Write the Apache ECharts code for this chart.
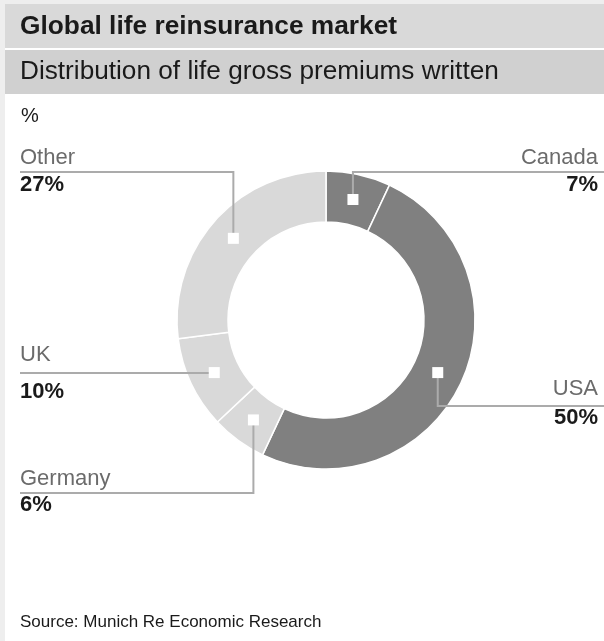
<!DOCTYPE html>
<html>
<head>
<meta charset="utf-8">
<script src="https://cdn.jsdelivr.net/npm/echarts@6/dist/echarts.min.js"></script>
<style>
  html, body { margin: 0; padding: 0; background: #eeeeee; }
  #chart { width: 604px; height: 641px; }
</style>
</head>
<body>
<div id="chart"></div>
<script>
// Life reinsurance gross premiums written, share by market (%)
const categories = ['Canada', 'USA', 'Germany', 'UK', 'Other'];
const shares = [7, 50, 6, 10, 27];

// Styling
const FONT = '"Liberation Sans", Arial, Helvetica, sans-serif';
const sliceColors = {
  Canada: '#808080',
  USA: '#808080',
  Germany: '#d9d9d9',
  UK: '#d9d9d9',
  Other: '#d9d9d9'
};

// Where each callout sits: which side, name row, leader row, value row
const callouts = {
  Canada:  { side: 'right', nameY: 158, lineY: 172, valueY: 185 },
  USA:     { side: 'right', nameY: 389, lineY: 406, valueY: 418 },
  Germany: { side: 'left',  nameY: 479, lineY: 493, valueY: 505 },
  UK:      { side: 'left',  nameY: 355, lineY: 373, valueY: 392 },
  Other:   { side: 'left',  nameY: 158, lineY: 172, valueY: 185 }
};
const TEXT_LEFT = 20;
const TEXT_RIGHT = 598;
const LEADER_RIGHT = 604;

const chart = echarts.init(document.getElementById('chart'), null, { renderer: 'canvas' });

// Centre of a ring segment, taken from the pie's own layout
function segmentCentre(idx) {
  const lay = chart.getModel().getSeriesByIndex(0).getData().getItemLayout(idx);
  const mid = (lay.startAngle + lay.endAngle) / 2;
  const rr = (lay.r + lay.r0) / 2;
  return [lay.cx + rr * Math.cos(mid), lay.cy + rr * Math.sin(mid)];
}

const pieData = categories.map((name, i) => ({ name: name, value: shares[i] }));

function ringBase(extra) {
  return Object.assign({
    type: 'pie',
    center: [326, 320],
    radius: [98, 149],
    startAngle: 90,
    clockwise: true,
    avoidLabelOverlap: false,
    minShowLabelAngle: 0,
    silent: true,
    animation: false,
    emphasis: { disabled: true },
    data: pieData
  }, extra);
}

const hidden = { color: 'rgba(0,0,0,0)', borderWidth: 0 };

const option = {
  backgroundColor: '#eeeeee',
  animation: false,
  graphic: [
    { type: 'rect', z: 0, shape: { x: 5, y: 4, width: 599, height: 637 }, style: { fill: '#ffffff' } },
    { type: 'rect', z: 0, shape: { x: 5, y: 4, width: 599, height: 44 }, style: { fill: '#d9d9d9' } },
    { type: 'rect', z: 0, shape: { x: 5, y: 50, width: 599, height: 44 }, style: { fill: '#d0d0d0' } }
  ],
  title: [
    {
      text: 'Global life reinsurance market',
      left: 20, top: 14, padding: 0,
      textStyle: { fontFamily: FONT, fontSize: 26.3, fontWeight: 'bold', color: '#1a1a1a' }
    },
    {
      text: 'Distribution of life gross premiums written',
      left: 20, top: 59, padding: 0,
      textStyle: { fontFamily: FONT, fontSize: 26.2, fontWeight: 'normal', color: '#1a1a1a' }
    },
    {
      text: '%',
      left: 21, top: 106, padding: 0,
      textStyle: { fontFamily: FONT, fontSize: 20, fontWeight: 'normal', color: '#1a1a1a' }
    },
    {
      text: 'Source: Munich Re Economic Research',
      left: 20, top: 614, padding: 0,
      textStyle: { fontFamily: FONT, fontSize: 17, fontWeight: 'normal', color: '#1a1a1a' }
    }
  ],
  series: [
    // coloured ring
    ringBase({
      z: 2,
      itemStyle: {
        color: p => sliceColors[p.name],
        borderColor: '#ffffff',
        borderWidth: 1.5
      },
      label: { show: false },
      labelLine: { show: false }
    }),
    // market names with leader lines
    ringBase({
      z: 3,
      itemStyle: hidden,
      label: {
        show: true,
        position: 'outside',
        formatter: '{b}',
        fontFamily: FONT,
        fontSize: 22,
        color: '#6b6b6b'
      },
      labelLine: { show: true, lineStyle: { color: '#ababab', width: 2 } },
      labelLayout: p => {
        const c = callouts[categories[p.dataIndex]];
        const m = segmentCentre(p.dataIndex);
        const right = c.side === 'right';
        return {
          x: right ? TEXT_RIGHT : TEXT_LEFT,
          y: c.nameY,
          align: right ? 'right' : 'left',
          verticalAlign: 'middle',
          labelLinePoints: [m, [m[0], c.lineY], [right ? LEADER_RIGHT : TEXT_LEFT, c.lineY]]
        };
      }
    }),
    // percentage values under the leader lines
    ringBase({
      z: 3,
      itemStyle: hidden,
      label: {
        show: true,
        position: 'outside',
        formatter: '{c}%',
        fontFamily: FONT,
        fontSize: 22,
        fontWeight: 'bold',
        color: '#1a1a1a'
      },
      labelLine: { show: false },
      labelLayout: p => {
        const c = callouts[categories[p.dataIndex]];
        const right = c.side === 'right';
        return {
          x: right ? TEXT_RIGHT : TEXT_LEFT,
          y: c.valueY,
          align: right ? 'right' : 'left',
          verticalAlign: 'middle'
        };
      }
    }),
    // white square anchor in the middle of each segment
    ringBase({
      z: 4,
      itemStyle: hidden,
      label: {
        show: true,
        position: 'inside',
        rotate: 0,
        formatter: '{sq|}',
        rich: { sq: { width: 11, height: 11, backgroundColor: '#ffffff' } }
      },
      labelLine: { show: false },
      labelLayout: p => {
        const m = segmentCentre(p.dataIndex);
        return { x: m[0], y: m[1], align: 'center', verticalAlign: 'middle' };
      }
    })
  ]
};

chart.setOption(option);
</script>
</body>
</html>
